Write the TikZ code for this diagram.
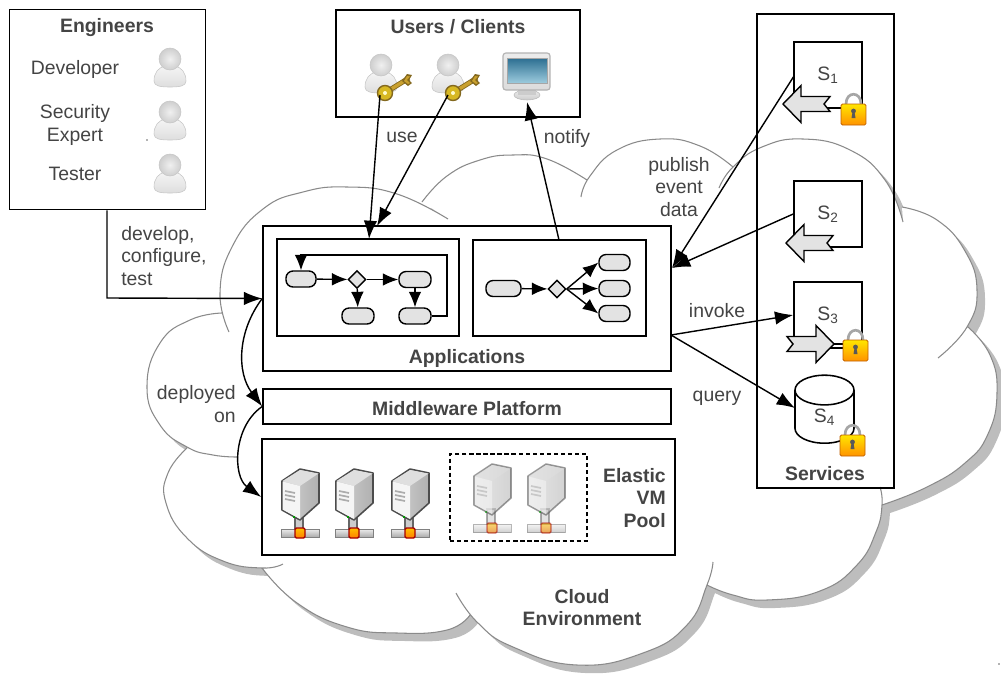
\documentclass[tikz,border=0pt]{standalone}
\usepackage{fontspec}
\setmainfont{Liberation Sans}
\usetikzlibrary{arrows.meta,shapes.geometric}
\newlength\px
\setlength\px{0.025cm}
\definecolor{textgray}{HTML}{444444}
\definecolor{cloudgray}{HTML}{8A8A8A}
\definecolor{shadowgray}{HTML}{BDBDBD}
\definecolor{taskgray}{HTML}{E3E3E3}
\definecolor{keygold}{HTML}{C9A02E}
\definecolor{screendark}{HTML}{2C6E91}
\definecolor{screenlight}{HTML}{9CCBDD}
% the lobes of the cloud, #1 joins them (-- for a closed outline, nothing for open strokes)
\newcommand\cloudpath[1]{%
  plot[smooth,tension=.8] coordinates {(229,332) (220,293) (232,247) (263,209) (303,192) (347,187) (397,194) (448,219)} #1
  plot[smooth,tension=.8] coordinates {(422,202) (447,176) (480,160) (513,155) (547,159) (587,180)} #1
  plot[smooth,tension=.8] coordinates {(581,197) (590,176) (617,150) (660,139) (700,146) (733,167)} #1
  plot[smooth,tension=.8] coordinates {(719,188) (733,167) (762,147) (803,139) (850,150) (885,180) (903,222)} #1
  plot[smooth,tension=.8] coordinates {(902,207) (937,220) (965,251) (977,290) (967,327) (938,358)} #1
  plot[smooth,tension=.8] coordinates {(968,327) (990,355) (997,393) (988,434) (965,463) (927,487) (882,505)} #1
  plot[smooth,tension=.8] coordinates {(880,487) (882,505) (876,532) (857,565) (820,591) (767,600) (733,595) (707,585)} #1
  plot[smooth,tension=.8] coordinates {(713,562) (707,585) (687,625) (643,653) (577,665) (513,647) (478,623) (456,593)} #1
  plot[smooth,tension=.8] coordinates {(470,615) (447,630) (397,633) (347,627) (297,603) (262,568)} #1
  plot[smooth,tension=.8] coordinates {(283,564) (262,568) (223,561) (187,538) (166,503) (168,473) (187,448)} #1
  plot[smooth,tension=.8] coordinates {(238,457) (213,455) (187,447) (160,425) (147,387) (160,343) (190,320) (222,313)}}
\tikzset{
  txt/.style={text=textgray,font=\fontsize{13.8}{16}\selectfont,align=center,inner sep=0pt},
  boldtxt/.style={txt,font=\fontsize{13.8}{16}\selectfont\bfseries},
  panel/.style={draw,line width=1.1pt,inner sep=0pt},
  taskbox/.style={draw,line width=1pt,fill=taskgray,rounded corners=5pt,inner sep=0pt,minimum height=16\px},
  gateway/.style={draw,line width=1pt,fill=taskgray,diamond,inner sep=0pt,minimum width=18\px,minimum height=18\px},
  flow/.style={line width=1pt,-{Latex[length=11pt,width=9pt]}},
  link/.style={line width=1pt,-{Latex[length=13pt,width=9.5pt]}},
  person/.pic={
    \draw[draw=gray!45,top color=gray!8,bottom color=gray!26] (-16,22) .. controls (-16,13) and (-11,9) .. (-6,7) -- (6,7)
      .. controls (11,9) and (16,13) .. (16,22) .. controls (16,27) and (10,28) .. (0,28)
      .. controls (-10,28) and (-16,27) .. (-16,22) -- cycle;
    \draw[draw=gray!45,inner color=gray!12,outer color=gray!38] (0,0) circle (11);
  },
  goldkey/.pic={
    \draw[keygold!65!black,line width=3.6pt] (3,-2) -- (24,-15);
    \draw[keygold,line width=2.4pt] (3,-2) -- (24,-15);
    \fill[keygold!65!black] (17,-12) -- (22,-19) -- (27,-18) -- (24,-13) -- (27,-10) -- (23,-7) -- cycle;
    \fill[keygold] (19,-12) -- (22,-17) -- (25,-16.5) -- (22,-13) -- (25,-10) -- (23,-9) -- cycle;
    \draw[keygold!65!black,fill=keygold!75!yellow,line width=1pt] (0,0) circle (7.5);
    \fill[white!80!yellow] (0,0) circle (2);
  },
  monitorpc/.pic={
    \draw[draw=gray!55,top color=gray!15,bottom color=gray!40] (0,-7) ellipse (13 and 5);
    \fill[gray!40] (-9,-13) rectangle (9,-7);
    \draw[draw=gray!60,top color=gray!15,bottom color=gray!28,rounded corners=2pt,line width=.8pt] (-24,-49) -- (23,-49) -- (23,-12) -- (-24,-12) -- cycle;
    \draw[draw=gray!70,top color=screendark,bottom color=screenlight] (-20,-44) rectangle (20,-19);
  },
  serverbox/.pic={
    \draw[draw=black!60,line width=.8pt,fill=gray!40] (14,45) rectangle (22,60);
    \draw[draw=gray,top color=gray!15,bottom color=gray!65] (0,60) rectangle (38,68);
    \draw[draw=black!70,line width=1.1pt,left color=gray!35,right color=gray!62,line join=round] (1,12) -- (19,0) -- (38,4) -- (38,34) -- (19,51) -- (1,41) -- cycle;
    \fill[gray!25] (1.5,12) -- (19,1) -- (37.5,4.5) -- (19,17) -- cycle;
    \fill[gray!8] (1.5,12.5) -- (19,17) -- (19,50) -- (1.5,40.5) -- cycle;
    \draw[gray!65,line width=1.2pt] (4,22) -- (14,24) (4,26) -- (14,28) (4,30) -- (14,32);
    \fill[green!60!black] (12,47) rectangle (14,48.5);
    \draw[draw=red!65!black,line width=1pt,top color=yellow!50!orange,bottom color=orange,rounded corners=1pt] (14,59) rectangle (24,69);
  },
  padlock/.pic={
    \draw[gray!70,line width=1.9pt] (5,0) .. controls (5,-13) and (20,-13) .. (20,0);
    \draw[orange!75!black,rounded corners=1pt,top color=yellow!80!orange,bottom color=orange!85!yellow,line width=.6pt] (0,0) rectangle (25,21);
    \fill[black!65] (12.5,7) circle (2.4);
    \fill[black!65] (11.5,8) -- (13.5,8) -- (14.5,14) -- (10.5,14) -- cycle;
  },
  blockarrow/.pic={
    \draw[line width=1pt,fill=taskgray] (0,0) -- (18,-18.5) -- (18,-7.5) -- (47,-7.5) -- (41,0) -- (47,7.5)
      -- (18,7.5) -- (18,18.5) -- cycle;
  },
}
\begin{document}
\begin{tikzpicture}[x=0.025cm,y=-0.025cm]
\useasboundingbox (0,0) rectangle (1001,673);
% cloud
\fill[shadowgray,shift={(8,8)}] \cloudpath{--} -- cycle;
\fill[white] \cloudpath{--} -- cycle;
\draw[cloudgray,line width=.75pt] \cloudpath{};
\node[boldtxt] (cloudlbl) at (582,607.5) {Cloud\\Environment};
\fill[black!60] (147,140) circle (.8) (999,664) circle (.8);
% engineers
\node[panel,minimum width=196\px,minimum height=200\px] (engineers) at (107.5,109.5) {};
\node[boldtxt] (engineerslbl) at (107,28) {Engineers};
\node[txt] (developer) at (75,69) {Developer};
\node[txt] (security) at (75,125) {Security\\Expert};
\node[txt] (tester) at (75,174) {Tester};
\pic at (170,59) {person};
\pic at (170,112) {person};
\pic at (170,165) {person};
% users
\node[panel,minimum width=244\px,minimum height=107\px] (users) at (458,63.5) {};
\node[boldtxt] (userslbl) at (458,27) {Users / Clients};
\pic at (381,65) {person};
\pic at (448,65) {person};
\pic at (385,93) {goldkey};
\pic at (453,93) {goldkey};
\pic at (527,102) {monitorpc};
\coordinate (key1) at (380,95);
\coordinate (key2) at (448,95);
\coordinate (screen) at (527,102);
% applications
\node[panel,minimum width=408\px,minimum height=145\px] (apps) at (467,298.5) {};
\node[boldtxt] (appslbl) at (467,358) {Applications};
\node[panel,minimum width=182\px,minimum height=97\px] (flowa) at (368,287.5) {};
\node[panel,minimum width=173\px,minimum height=96\px] (flowb) at (559.5,288) {};
\node[taskbox,minimum width=30\px] (ta1) at (301,279) {};
\node[gateway] (ga) at (357,279.5) {};
\node[taskbox,minimum width=32\px] (ta2) at (415,279.5) {};
\node[taskbox,minimum width=32\px] (ta3) at (358,316) {};
\node[taskbox,minimum width=32\px] (ta4) at (415,316) {};
\coordinate (loop) at (447,255);
\draw[flow] (ta1) -- (ga);
\draw[flow] (ga) -- (ta2);
\draw[flow] (ga) -- (ta3);
\draw[flow] (ta2) -- (ta4);
\draw[flow] (ta4.east) -| (loop) -| (ta1.north);
\node[taskbox,minimum width=35\px] (tb1) at (503.5,288.5) {};
\node[gateway] (gb) at (557,289) {};
\node[taskbox,minimum width=31\px] (tb2) at (614.5,262.5) {};
\node[taskbox,minimum width=31\px] (tb3) at (614.5,288.5) {};
\node[taskbox,minimum width=31\px] (tb4) at (614.5,313.5) {};
\draw[flow] (tb1) -- (gb);
\draw[flow] (gb.east) -- (tb2.west);
\draw[flow] (gb.east) -- (tb3.west);
\draw[flow] (gb.east) -- (tb4.west);
% middleware and pool
\node[panel,minimum width=408\px,minimum height=35\px] (middleware) at (467,406.5) {};
\node[boldtxt] (middlewarelbl) at (467,409) {Middleware Platform};
\node[panel,minimum width=413\px,minimum height=116\px] (pool) at (468.5,497) {};
\node[boldtxt,align=right,anchor=east] (poollbl) at (666,498) {Elastic\\VM\\Pool};
\node[draw,line width=.9pt,densely dashed,inner sep=0pt,minimum width=137\px,minimum height=87\px] (spare) at (518.5,497.5) {};
\pic at (281,469) {serverbox};
\pic at (335,469) {serverbox};
\pic at (391,469) {serverbox};
\pic[opacity=.55] at (473,464) {serverbox};
\pic[opacity=.55] at (527,464) {serverbox};
% services
\node[panel,minimum width=137\px,minimum height=474\px] (services) at (825.5,251) {};
\node[boldtxt] (serviceslbl) at (825,474) {Services};
\node[panel,txt,text=textgray,minimum width=68\px,minimum height=66\px] (s1) at (828,75) {S\textsubscript{1}};
\node[panel,txt,text=textgray,minimum width=68\px,minimum height=66\px] (s2) at (828,214) {S\textsubscript{2}};
\node[panel,txt,text=textgray,minimum width=68\px,minimum height=66\px] (s3) at (828,315) {S\textsubscript{3}};
\node[panel,txt,text=textgray,cylinder,shape border rotate=90,shape aspect=1.4,minimum width=59\px,minimum height=68\px] (s4) at (824.5,417) {S\textsubscript{4}};
\coordinate (pubin) at (672,268);
\coordinate (appsout) at (671,335);
\coordinate (s1out) at (794,76);
\coordinate (s4in) at (795,408);
\draw[link] (s1out) -- (pubin);
\draw[link] (s2.west) -- (pubin);
\draw[link] (appsout) -- (s3.west);
\draw[link] (appsout) -- (s4in);
\pic at (783,104) {blockarrow};
\pic at (786,243) {blockarrow};
\draw[line width=1pt] (834,344) -- (845,344);
\pic[xscale=-1] at (834,344) {blockarrow};
\pic at (841,104) {padlock};
\pic at (843,340) {padlock};
\pic at (840,435) {padlock};
% connectors on the left
\coordinate (corner) at (107,298);
\draw[link] (engineers.south -| corner) -- (corner) -- (apps.west);
\draw[link] (apps.west) to[bend right=37] (middleware.west);
\draw[link] (middleware.west) to[bend right=55] (pool.west);
\coordinate (flowain) at (369,239);
\coordinate (appsin) at (377,226);
\coordinate (flowbout) at (559,240);
\draw[link] (key1) -- (flowain);
\draw[link] (key2) -- (appsin);
\draw[link] (flowbout) -- (screen);
% labels
\node[txt,align=left,anchor=west] (develop) at (121,256) {develop,\\configure,\\test};
\node[txt,align=right,anchor=east] (deployed) at (236,404) {deployed\\on};
\node[txt] (use) at (402,137) {use};
\node[txt] (notify) at (567,138) {notify};
\node[txt] (publish) at (679,187) {publish\\event\\data};
\node[txt] (invoke) at (717,311) {invoke};
\node[txt] (query) at (717,398) {query};
\end{tikzpicture}
\end{document}
